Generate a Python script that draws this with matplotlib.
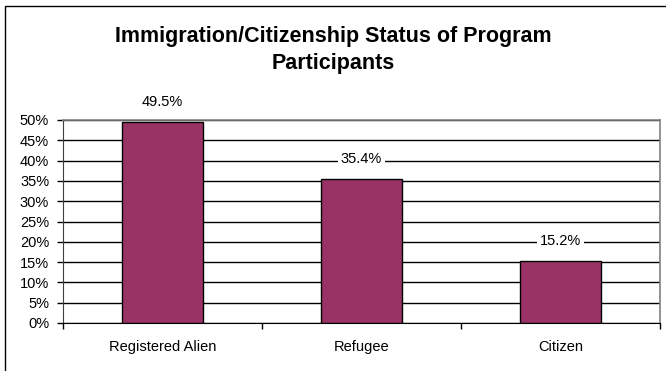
import matplotlib
matplotlib.use("Agg")
import matplotlib.pyplot as plt
from matplotlib.patches import Rectangle

categories = ["Registered Alien", "Refugee", "Citizen"]
values = [49.5, 35.4, 15.2]
value_labels = ["49.5%", "35.4%", "15.2%"]
yticks = [0, 5, 10, 15, 20, 25, 30, 35, 40, 45, 50]
ytick_labels = [f"{t}%" for t in yticks]
title = "Immigration/Citizenship Status of Program\nParticipants"

plt.rcParams['font.family'] = ['Liberation Sans', 'DejaVu Sans']

W, H = 666, 371
fig = plt.figure(figsize=(W / 100, H / 100), dpi=100)
fig.patch.set_facecolor("white")

# figure border (cropped on right/bottom)
fig.patches.append(Rectangle((5 / W, -0.1), 1.2, (H - 6) / H + 0.1,
                             transform=fig.transFigure, fill=False,
                             edgecolor="black", linewidth=1.0))

ax = fig.add_axes([63 / W, 1 - 323 / H, (660 - 63) / W, (323 - 120) / H])
x = list(range(len(categories)))
ax.bar(x, values, width=0.41, color="#993366", edgecolor="black",
       linewidth=1.0, zorder=3)
ax.set_xlim(-0.5, len(categories) - 0.5)
ax.set_ylim(0, 50)
ax.set_yticks(yticks)
ax.set_yticklabels(ytick_labels, fontsize=10.5)
ax.yaxis.grid(True, color="black", linewidth=1.0, zorder=0)
ax.set_axisbelow(True)

ax.set_xticks(x)
ax.set_xticklabels(categories, fontsize=10.5)
ax.tick_params(axis="x", length=0, pad=12)
ax.set_xticks([i - 0.5 for i in range(len(categories) + 1)], minor=True)
ax.tick_params(axis="x", which="minor", length=4, width=1, direction="out")
ax.tick_params(axis="y", length=4, width=1, direction="out", pad=6)

for side in ["top", "right"]:
    ax.spines[side].set_color("#808080")
    ax.spines[side].set_linewidth(1.2)
ax.spines["left"].set_color("#404040")
ax.spines["bottom"].set_color("black")

for xi, v, lab in zip(x, values, value_labels):
    ax.annotate(lab, (xi, v), xytext=(0, 14.5), textcoords="offset points",
                ha="center", va="center", fontsize=10.5, zorder=5,
                bbox=dict(boxstyle="square,pad=0.2", facecolor="white",
                          edgecolor="none"), annotation_clip=False)

fig.text(333 / W, 1 - 50 / H, title, ha="center", va="center",
         fontsize=15.5, fontweight="bold", linespacing=1.42)

fig.savefig("out.png", dpi=100)
